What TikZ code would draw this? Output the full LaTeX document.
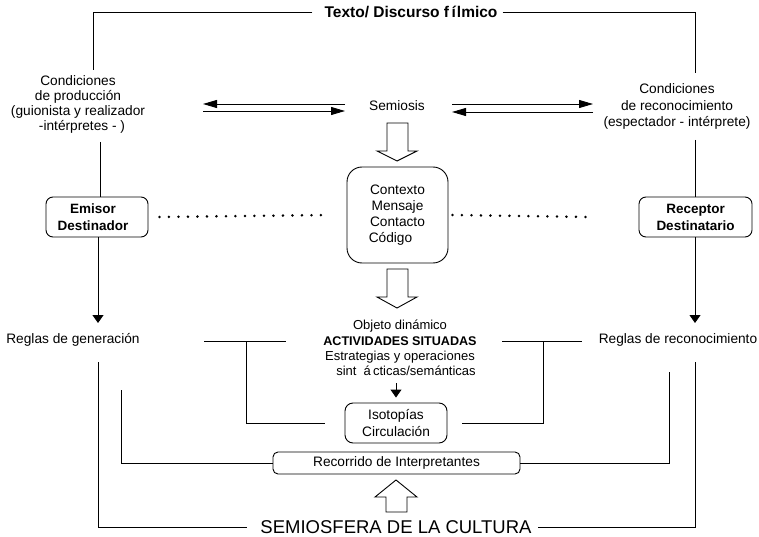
\documentclass[tikz,border=0pt]{standalone}
\usepackage{fontspec}
\setmainfont{Liberation Sans}
\usetikzlibrary{arrows.meta,calc}
\tikzset{
  conn/.style={line width=0.9pt},
  txt/.style={font=\fontsize{13.7}{15}\selectfont, inner sep=0pt, align=center},
  boxed/.style={draw, line width=0.9pt},
  boldtxt/.style={font=\bfseries\fontsize{13.5}{17}\selectfont},
  harr/.style={line width=0.9pt, -{Triangle[length=14pt,width=8pt]}},
  varr/.style={line width=0.9pt, -{Triangle[length=8pt,width=11pt]}},
  dotline/.style={line width=2.8pt, line cap=round, dash pattern=on 0pt off 9.5pt},
  blockarrow/.style={draw, fill=white, line width=0.9pt, line join=miter},
}
\begin{document}
\begin{tikzpicture}[x=1pt,y=-1pt]
\useasboundingbox (0,0) rectangle (759,537);

% ---- texts and boxes ----
\node[txt, font=\bfseries\fontsize{15.5}{18}\selectfont] (title) at (411,12) {Texto/ Discurso f\kern2.5ptí\kern1ptlmico};
\node[txt] (condL) at (78,104.5) {Condiciones\\de producción\\(guionista y realizador\\\hspace*{8pt}-intérpretes - )};
\node[txt, font=\fontsize{13.7}{16.5}\selectfont] (condR) at (677,106.5) {Condiciones\\de reconocimiento\\(espectador - intérprete)};
\node[txt] (semiosis) at (397,106) {Semiosis};

\node[txt, boxed, boldtxt, minimum width=102pt, minimum height=40pt, rounded corners=7pt] (emisor) at (97,217) {Emisor\kern8pt\\Destinador\kern8pt};
\node[txt, boxed, boldtxt, minimum width=113pt, minimum height=40pt, rounded corners=7pt] (receptor) at (695.5,217) {Receptor\\Destinatario};
\node[txt, boxed, font=\fontsize{13.7}{16}\selectfont, minimum width=101pt, minimum height=96pt, rounded corners=15pt] (cbox) at (397.5,215) {Contexto\\Mensaje\\Contacto\\Código\kern14pt};

\node[txt] (reglasG) at (73,340) {Reglas de generación};
\node[txt] (reglasR) at (678,340) {Reglas de reconocimiento};

\node[txt, font=\fontsize{13}{15.3}\selectfont] (objeto) at (400,348) {Objeto dinámico\\\textbf{\fontsize{12.6}{15.3}\selectfont ACTIVIDADES SITUADAS}\\Estrategias y operaciones\\\hspace*{12pt}sint~~á\,cticas/semánticas};

\node[txt, boxed, font=\fontsize{13.7}{17}\selectfont, minimum width=102pt, minimum height=40pt, rounded corners=8pt] (iso) at (396,423) {Isotopías\\Circulación};
\node[txt, boxed, minimum width=247pt, minimum height=22pt, rounded corners=5pt] (rec) at (396.5,463) {Recorrido de Interpretantes};
\node[txt, font=\fontsize{18.5}{20}\selectfont] (semio) at (396,527) {SEMIOSFERA DE LA CULTURA};

% ---- free-end coordinates ----
\coordinate (condLtop) at (93,70);
\coordinate (condRtop) at (695,73);
\coordinate (condLbot) at (100,142);
\coordinate (condRbot) at (695,140);
\coordinate (sLa) at (345,104);
\coordinate (sLb) at (203,104);
\coordinate (sLc) at (203,111);
\coordinate (sLd) at (345,111);
\coordinate (sRa) at (452,104);
\coordinate (sRb) at (593,104);
\coordinate (sRc) at (593,112);
\coordinate (sRd) at (452,112);
\coordinate (gTipL) at (98,323);
\coordinate (gTipR) at (695,323);
\coordinate (hL1) at (204,341);
\coordinate (hL2) at (286,341);
\coordinate (vL) at (246,341);
\coordinate (hLend) at (325,423);
\coordinate (hR1) at (502,341);
\coordinate (hR2) at (582,341);
\coordinate (vR) at (543,341);
\coordinate (hRend) at (462,423);
\coordinate (recL) at (121,390);
\coordinate (recR) at (669,372);
\coordinate (outL) at (98,362);
\coordinate (outR) at (695,362);

% ---- frame from title ----
\draw[conn] ([xshift=-12pt]title.west) -| (condLtop);
\draw[conn] ([xshift=5pt]title.east) -| (condRtop);

% ---- semiosis arrows ----
\draw[harr] (sLa) -- (sLb);
\draw[harr] (sLc) -- (sLd);
\draw[harr] (sRa) -- (sRb);
\draw[harr] (sRc) -- (sRd);

% ---- left / right columns ----
\draw[conn] (condLbot) -- (condLbot |- emisor.north);
\draw[varr] (emisor.south -| gTipL) -- (gTipL);
\draw[conn] (condRbot) -- (condRbot |- receptor.north);
\draw[varr] (receptor.south -| gTipR) -- (gTipR);

% ---- dotted links ----
\draw[dotline] ([xshift=11pt]emisor.east) -- ([xshift=-17pt]cbox.west);
\draw[dotline] ([xshift=4pt]cbox.east) -- ([xshift=-50pt]receptor.west);

% ---- block arrows ----
\draw[blockarrow] (387,123) -- (408,123) -- (408,151) -- (417,151) -- (397,161) -- (377,151) -- (387,151) -- cycle;
\draw[blockarrow] (387,269) -- (408,269) -- (408,297) -- (417,297) -- (397,308) -- (377,297) -- (387,297) -- cycle;
\draw[blockarrow] (386,512) -- (407,512) -- (407,497) -- (417,497) -- (396,480) -- (375,497) -- (386,497) -- cycle;

% ---- small arrow to Isotopias ----
\draw[varr] ($(objeto.south -| iso.north)+(0,7)$) -- ($(iso.north)+(0,-5)$);

% ---- lower connectors ----
\draw[conn] (hL1) -- (hL2);
\draw[conn] (vL) |- (hLend);
\draw[conn] (hR1) -- (hR2);
\draw[conn] (vR) |- (hRend);
\draw[conn] (recL) |- (rec.west);
\draw[conn] (recR) |- (rec.east);
\draw[conn] (outL) |- ([xshift=-13pt]semio.west);
\draw[conn] (outR) |- ([xshift=6pt]semio.east);
\end{tikzpicture}
\end{document}
